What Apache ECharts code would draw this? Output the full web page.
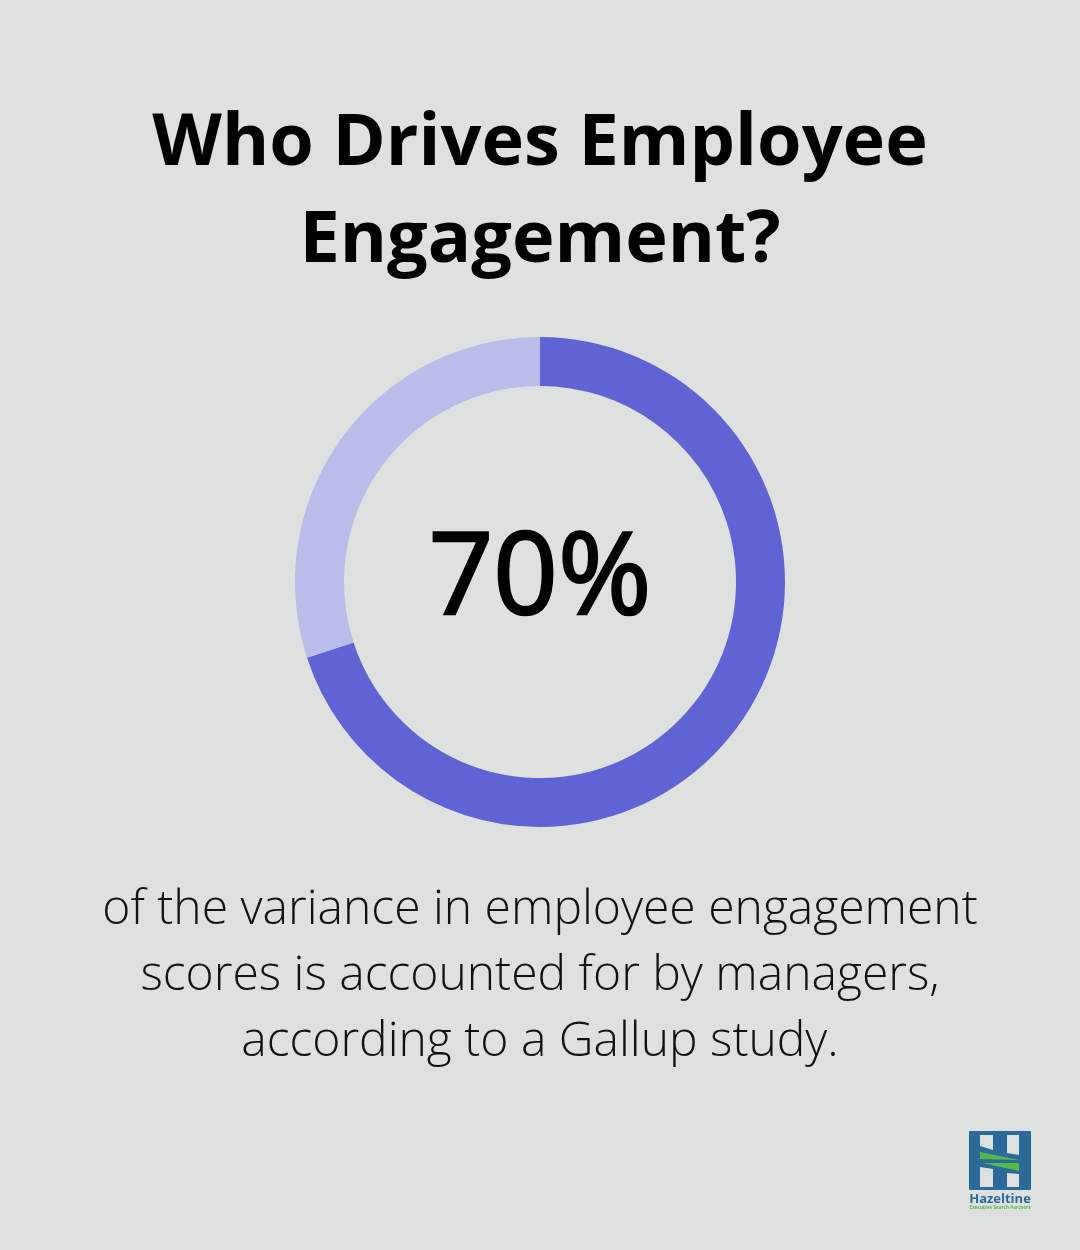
<!DOCTYPE html>
<html>
<head>
<meta charset="utf-8">
<script src="https://cdn.jsdelivr.net/npm/echarts@6/dist/echarts.min.js"></script>
<style>
html, body { margin: 0; padding: 0; background: #dfe1e0; }
#main { width: 1080px; height: 1250px; }
</style>
</head>
<body>
<div id="main"></div>
<script>
var titleLines = ['Who Drives Employee', 'Engagement?'];
var captionLines = [
    'of the variance in employee engagement',
    'scores is accounted for by managers,',
    'according to a Gallup study.'
];
var centerLabel = '70%';
var sliceNames = ['Managers', 'Other'];
var sliceValues = [70, 30];
var sliceColors = ['#6063d3', '#babce9'];

var chart = echarts.init(document.getElementById('main'));

var texts = [];
titleLines.forEach(function(t, i) {
    texts.push({
        type: 'text', x: 540, y: 144 + i * 97,
        style: { text: t, fill: '#000', font: '700 72px "Open Sans"', textAlign: 'center', textVerticalAlign: 'middle' }
    });
});
captionLines.forEach(function(t, i) {
    texts.push({
        type: 'text', x: 540, y: 910.5 + i * 66,
        style: { text: t, fill: '#111', font: '300 48px "Open Sans"', textAlign: 'center', textVerticalAlign: 'middle' }
    });
});
// regular weight looks too thin and 600 too heavy, a thin stroke gets close to medium
texts.push({
    type: 'text', x: 540, y: 582,
    style: { text: centerLabel, fill: '#000', stroke: '#000', lineWidth: 2.5, font: '400 113px "Open Sans"', textAlign: 'center', textVerticalAlign: 'middle' }
});

// logo, drawn as plain shapes
var logoBlue = '#2b6a9b', logoGreen = '#56b947', bg = '#dfe1e0';
texts.push({ type: 'rect', shape: { x: 969, y: 1131, width: 62, height: 59, r: 1 }, style: { fill: logoBlue } });
texts.push({ type: 'polygon', shape: { points: [[980, 1135], [993, 1135], [993, 1150], [980, 1146]] }, style: { fill: bg } });
texts.push({ type: 'polygon', shape: { points: [[1007, 1135], [1019, 1135], [1019, 1155], [1007, 1153]] }, style: { fill: bg } });
texts.push({ type: 'polygon', shape: { points: [[980, 1167], [993, 1169], [993, 1187], [980, 1187]] }, style: { fill: bg } });
texts.push({ type: 'polygon', shape: { points: [[1007, 1173], [1019, 1174], [1019, 1187], [1007, 1187]] }, style: { fill: bg } });
texts.push({ type: 'polygon', shape: { points: [[980, 1152], [1019, 1160], [980, 1159]] }, style: { fill: logoGreen } });
texts.push({ type: 'polygon', shape: { points: [[982, 1163], [1019, 1163], [1019, 1171]] }, style: { fill: logoGreen } });
texts.push({ type: 'text', x: 1000, y: 1199, style: { text: 'Hazeltine', fill: logoBlue, font: '700 13px "Open Sans"', textAlign: 'center', textVerticalAlign: 'middle' } });
texts.push({ type: 'text', x: 1000, y: 1208, style: { text: 'Executive Search Partners', fill: logoGreen, font: '700 4.7px "Open Sans"', textAlign: 'center', textVerticalAlign: 'middle' } });

chart.setOption({
    backgroundColor: '#dfe1e0',
    animation: false,
    series: [{
        type: 'pie',
        center: [540, 582],
        radius: [196, 245],
        startAngle: 90,
        silent: true,
        label: { show: false },
        labelLine: { show: false },
        data: sliceValues.map(function(v, i) {
            return { name: sliceNames[i], value: v, itemStyle: { color: sliceColors[i] } };
        })
    }],
    graphic: texts
});
</script>
</body>
</html>
